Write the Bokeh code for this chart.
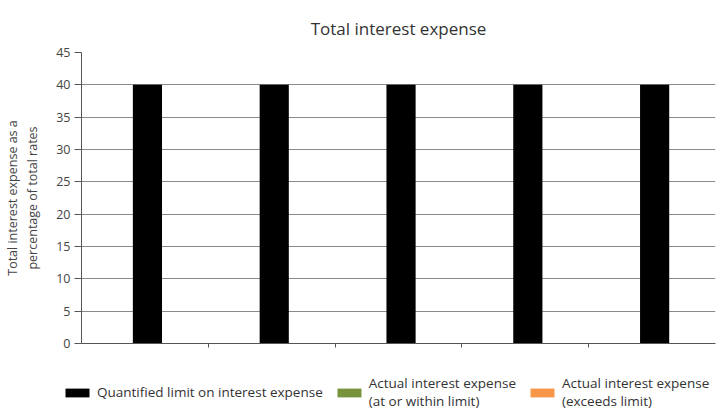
from bokeh.plotting import figure
from bokeh.models import Range1d, FixedTicker, Legend, LegendItem, ColumnDataSource
from bokeh.layouts import column, row
from bokeh.transform import dodge
from bokeh.embed import file_html
from bokeh.resources import INLINE

# ---- data ----
periods = [0, 1, 2, 3, 4]          # five periods, unlabeled in the source chart
limit_values = [40, 40, 40, 40, 40]
actual_within = [0, 0, 0, 0, 0]
actual_exceeds = [0, 0, 0, 0, 0]
y_ticks = [0, 5, 10, 15, 20, 25, 30, 35, 40, 45]
period_boundaries = [1, 2, 3, 4]
series_names = ["Quantified limit on interest expense",
                "Actual interest expense\n(at or within limit)",
                "Actual interest expense\n(exceeds limit)"]
series_colors = ["#000000", "#77933c", "#f79646"]

FONT = "Open Sans"

src = ColumnDataSource(dict(
    x=[p + 0.5 for p in periods],
    limit=limit_values,
    within=actual_within,
    exceeds=actual_exceeds,
))

p = figure(width=718, height=352, output_backend="svg", toolbar_location=None,
           x_range=Range1d(0, 5), y_range=Range1d(0, 45),
           min_border_left=80, min_border_right=3, min_border_top=52, min_border_bottom=9)
p.outline_line_color = None
p.background_fill_color = "white"

p.title.text = "Total interest expense"
p.title.align = "center"
p.title.text_font = FONT
p.title.text_font_size = "17px"
p.title.text_font_style = "normal"
p.title.text_color = "#333333"
p.title.standoff = 26

r_limit = p.vbar(x=dodge("x", 0.02, range=p.x_range), top="limit", width=0.23,
                 source=src, fill_color=series_colors[0], line_color=None)
r_within = p.vbar(x=dodge("x", 0.27, range=p.x_range), top="within", width=0.23,
                  source=src, fill_color=series_colors[1], line_color=None)
r_exceeds = p.vbar(x=dodge("x", 0.27, range=p.x_range), top="exceeds", width=0.23,
                   source=src, fill_color=series_colors[2], line_color=None)

# axes
p.yaxis.ticker = FixedTicker(ticks=y_ticks)
p.yaxis.axis_label = "Total interest expense as a\npercentage of total rates"
p.yaxis.axis_label_text_font = FONT
p.yaxis.axis_label_text_font_size = "12.5px"
p.yaxis.axis_label_text_font_style = "normal"
p.yaxis.axis_label_text_color = "#444444"
p.yaxis.axis_label_standoff = 12
p.yaxis.major_label_text_font = FONT
p.yaxis.major_label_text_font_size = "12.5px"
p.yaxis.major_label_text_color = "#444444"
p.yaxis.major_label_standoff = 4
p.yaxis.major_tick_out = 7
p.yaxis.major_tick_in = 0
p.yaxis.minor_tick_line_color = None
p.yaxis.axis_line_color = "#555555"
p.yaxis.major_tick_line_color = "#555555"

p.xaxis.ticker = FixedTicker(ticks=period_boundaries)
p.xaxis.major_label_overrides = {t: "" for t in period_boundaries}
p.xaxis.major_label_standoff = 0
p.xaxis.major_tick_out = 4
p.xaxis.major_tick_in = 0
p.xaxis.minor_tick_line_color = None
p.xaxis.axis_line_color = "#555555"
p.xaxis.major_tick_line_color = "#555555"

p.xgrid.grid_line_color = None
p.ygrid.ticker = FixedTicker(ticks=y_ticks)
p.ygrid.grid_line_color = "#8a8a8a"
p.ygrid.grid_line_width = 1

# ---- legend strip below the chart ----
lg = figure(width=718, height=63, output_backend="svg", toolbar_location=None,
            x_range=Range1d(0, 1), y_range=Range1d(0, 1),
            x_axis_type=None, y_axis_type=None,
            min_border_left=0, min_border_right=0, min_border_top=0, min_border_bottom=0)
lg.outline_line_color = None
lg.grid.grid_line_color = None
lsrc = ColumnDataSource(dict(x=[5, 5, 5], top=[1, 1, 1]))   # outside the visible range
lr = [lg.vbar(x="x", top="top", width=0.1, source=lsrc, fill_color=c, line_color=None)
      for c in series_colors]

legend = Legend(items=[LegendItem(label=n, renderers=[r]) for n, r in zip(series_names, lr)],
                orientation="horizontal", location=(62, 5))
legend.label_text_font = FONT
legend.label_text_font_size = "13.5px"
legend.label_text_line_height = 0.95
legend.label_text_color = "#333333"
legend.glyph_width = 30
legend.glyph_height = 11
legend.label_standoff = 5
legend.spacing = 11
legend.padding = 0
legend.margin = 0
legend.border_line_color = None
legend.background_fill_alpha = 0
lg.add_layout(legend, "center")

open("out.html", "w").write(file_html(column(p, row(lg)), INLINE))
